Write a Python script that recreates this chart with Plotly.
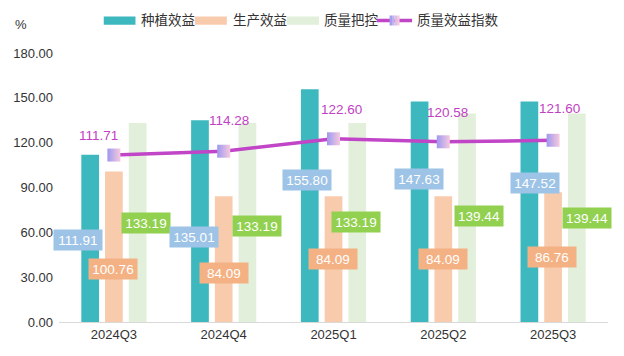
import plotly.graph_objects as go

categories = ["2024Q3", "2024Q4", "2025Q1", "2025Q2", "2025Q3"]
planting = [111.91, 135.01, 155.80, 147.63, 147.52]       # 种植效益
production = [100.76, 84.09, 84.09, 84.09, 86.76]         # 生产效益
quality_ctrl = [133.19, 133.19, 133.19, 139.44, 139.44]   # 质量把控
quality_index = [111.71, 114.28, 122.60, 120.58, 121.60]  # 质量效益指数
y_ticks = [0, 30, 60, 90, 120, 150, 180]

# label anchor positions (style/layout, not data)
teal_lab_y = [55.1, 56.6, 95.2, 95.4, 93.2]
teal_lab_dx = [-35.7, -30, -27, -24, -18.4]
peach_lab_y = [35.2, 32.7, 42.4, 42.4, 43.7]
peach_lab_dx = [-0.7, 0, -1, 0, -1]
green_lab_y = [66.4, 64.0, 66.6, 70.6, 69.8]
green_lab_dx = [32, 33.5, 22.7, 35.7, 33.6]
line_lab_y = [124.9, 134.7, 142.1, 140.1, 142.7]
line_lab_dx = [-15.5, 5.7, 7.9, 4.4, 6]

TEAL = "#3db8bf"
PEACH = "#f8cbad"
GREEN = "#e2efda"
LINE = "#c145c7"
FONT = "Arial, 'Liberation Sans', 'Noto Sans CJK SC', sans-serif"

fig = go.Figure()
fig.add_trace(go.Bar(name="种植效益", x=categories, y=planting, marker=dict(color=TEAL, line=dict(width=0))))
fig.add_trace(go.Bar(name="生产效益", x=categories, y=production, marker=dict(color=PEACH, line=dict(width=0))))
fig.add_trace(go.Bar(name="质量把控", x=categories, y=quality_ctrl, marker=dict(color=GREEN, line=dict(width=0))))
fig.add_trace(go.Scatter(
    name="质量效益指数", x=categories, y=quality_index, mode="lines+markers",
    line=dict(color=LINE, width=3.5),
    marker=dict(symbol="square", size=13, color="#9d98f0",
                gradient=dict(type="horizontal", color="#f7cade"),
                line=dict(width=0)),
))

annotations = []

def box_label(x, y, dx, text, bg):
    annotations.append(dict(
        x=x, y=y, xref="x", yref="y", xshift=dx, text=text, showarrow=False,
        font=dict(family=FONT, size=13.5, color="white"), bgcolor=bg,
        width=42, height=14, borderpad=3, xanchor="center", yanchor="middle",
    ))

for i, c in enumerate(categories):
    box_label(c, teal_lab_y[i], teal_lab_dx[i], f"{planting[i]:.2f}", "#9dc3e6")
    box_label(c, peach_lab_y[i], peach_lab_dx[i], f"{production[i]:.2f}", "#f4b183")
    box_label(c, green_lab_y[i], green_lab_dx[i], f"{quality_ctrl[i]:.2f}", "#92d050")
    annotations.append(dict(
        x=c, y=line_lab_y[i], xref="x", yref="y", xshift=line_lab_dx[i],
        text=f"{quality_index[i]:.2f}", showarrow=False,
        font=dict(family=FONT, size=13.5, color="#c23fc3"),
        xanchor="center", yanchor="middle",
    ))

# custom legend (pixel -> paper conversion)
L, R, T, B = 59.3, 607.7, 53.3, 322.3
def px(xp):
    return (xp - L) / (R - L)
def py(yp):
    return (B - yp) / (B - T)

shapes = []
legend_items = [
    ("种植效益", TEAL, 104, 135.7, 139.5),
    ("生产效益", PEACH, 195, 227, 231),
    ("质量把控", GREEN, 287, 319, 322.5),
]
for name, col, x0, x1, tx in legend_items:
    shapes.append(dict(type="rect", xref="paper", yref="paper",
                       x0=px(x0), x1=px(x1), y0=py(25), y1=py(16.7),
                       fillcolor=col, line=dict(width=0), layer="above"))
    annotations.append(dict(x=px(tx), y=py(20.8), xref="paper", yref="paper",
                            text=name, showarrow=False, xanchor="left", yanchor="middle",
                            font=dict(family=FONT, size=13.5, color="#333333")))
# line legend item
shapes.append(dict(type="line", xref="paper", yref="paper",
                   x0=px(377), x1=px(412), y0=py(20.8), y1=py(20.8),
                   line=dict(color=LINE, width=3.5), layer="above"))
grad = ["#a39ef0", "#c0b2ee", "#dcbfe6", "#f3c8df"]
for k, gc in enumerate(grad):
    shapes.append(dict(type="rect", xref="paper", yref="paper",
                       x0=px(389.5 + k * 2.5), x1=px(392 + k * 2.5),
                       y0=py(25.8), y1=py(15.8),
                       fillcolor=gc, line=dict(width=0), layer="above"))
annotations.append(dict(x=px(414.5), y=py(20.8), xref="paper", yref="paper",
                        text="质量效益指数", showarrow=False, xanchor="left", yanchor="middle",
                        font=dict(family=FONT, size=13.5, color="#333333")))
annotations.append(dict(x=px(21), y=py(25), xref="paper", yref="paper",
                        text="%", showarrow=False, xanchor="center", yanchor="middle",
                        font=dict(family=FONT, size=13, color="#333333")))

fig.update_layout(
    width=624, height=356,
    margin=dict(l=59.3, r=16.3, t=53.3, b=33.7, autoexpand=False),
    paper_bgcolor="white", plot_bgcolor="white",
    barmode="group", bargap=0.352, bargroupgap=0.253,
    showlegend=False,
    font=dict(family=FONT, size=13, color="#333333"),
    annotations=annotations, shapes=shapes,
    xaxis=dict(range=[-0.5, 4.5], showgrid=False, showline=True, linecolor="#d9d9d9", linewidth=1,
               ticks="", automargin=False, tickfont=dict(size=13, color="#333333")),
    yaxis=dict(range=[0, 180], tickvals=y_ticks, ticktext=[f"{v:.2f}" for v in y_ticks],
               showgrid=False, zeroline=False, showline=False, ticks="", automargin=False,
               ticklabelstandoff=5, tickfont=dict(size=13, color="#333333")),
)

fig.write_html("out.html", config={"displayModeBar": False},
               post_script="document.body.style.margin='0';")
